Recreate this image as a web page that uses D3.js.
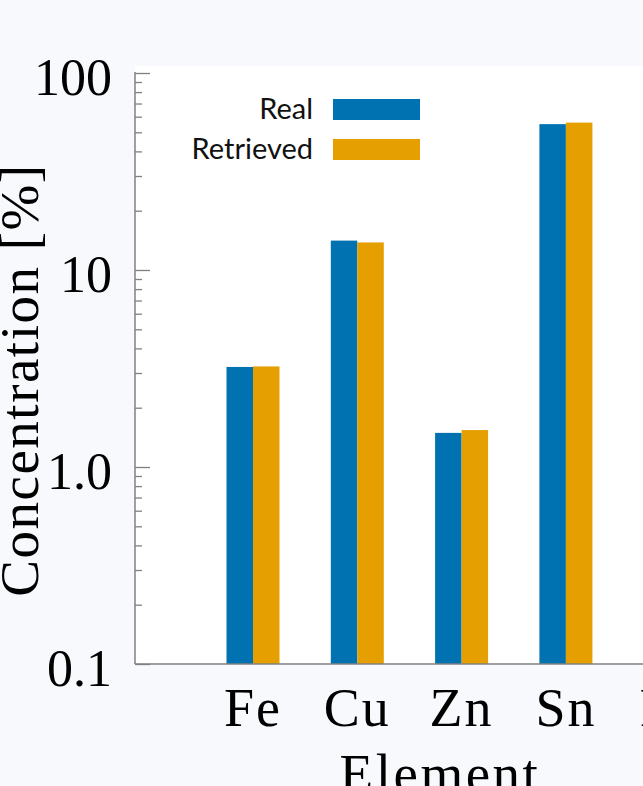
<!DOCTYPE html>
<html>
<head>
<meta charset="utf-8">
<script src="https://cdn.jsdelivr.net/npm/d3@7"></script>
<style>
  html, body { margin: 0; padding: 0; background: #f7f9fd; overflow: hidden; }
  #plot { width: 643px; height: 786px; }
</style>
</head>
<body>
<div id="plot"></div>
<script>
// values
const categories = ['Fe', 'Cu', 'Zn', 'Sn', 'Pb'];
const realValues = [3.22, 14.1, 1.49, 55.0];      // last category is cut off in the picture
const retrievedValues = [3.24, 13.8, 1.54, 56.0];
const seriesNames = ['Real', 'Retrieved'];
const seriesColors = ['#0072b2', '#e69f00'];
const yMajorTicks = [0.1, 1, 10, 100];
const yMajorLabels = ['0.1', '1.0', '10', '100'];

function drawChart() {
  const W = 643, H = 786;
  const axisX = 135;
  const plotTop = 66, yTop = 73, yBottom = 664;
  const step = 104.3;
  const firstCenter = 253;
  const serif = '"Liberation Serif", serif';

  const svg = d3.select('#plot').append('svg')
    .attr('width', W).attr('height', H);

  svg.append('rect').attr('x', 0).attr('y', 0).attr('width', W).attr('height', H).attr('fill', '#f7f9fd');
  // white plot area
  svg.append('rect').attr('x', axisX).attr('y', plotTop)
    .attr('width', W - axisX).attr('height', yBottom - plotTop).attr('fill', '#ffffff');

  const x = d3.scaleBand()
    .domain(categories)
    .range([firstCenter - step / 2, firstCenter - step / 2 + step * categories.length]);
  const y = d3.scaleLog().domain([0.1, 100]).range([yBottom, yTop]);

  const barW = 26.5;
  const rows = categories.map((c, i) => ({ cat: c, vals: [realValues[i], retrievedValues[i]] }));

  const grp = svg.append('g');
  rows.forEach((r) => {
    r.vals.forEach((v, k) => {
      if (v == null) return;
      const cx = x(r.cat) + x.bandwidth() / 2;
      grp.append('rect')
        .attr('x', cx + (k === 0 ? -barW : 0))
        .attr('y', y(v))
        .attr('width', barW)
        .attr('height', y(0.1) - y(v))
        .attr('fill', seriesColors[k]);
    });
  });

  // minor + major ticks pointing into the plot
  const minorAxis = d3.axisRight(y).tickValues(y.ticks().filter(t => !yMajorTicks.includes(t)))
    .tickSize(7).tickFormat('');
  const gMinor = svg.append('g').attr('transform', `translate(${axisX},0)`).call(minorAxis);
  const majorAxis = d3.axisRight(y).tickValues(yMajorTicks).tickSize(15).tickFormat('');
  const gMajor = svg.append('g').attr('transform', `translate(${axisX},0)`).call(majorAxis);
  [gMinor, gMajor].forEach(g => {
    g.select('.domain').remove();
    g.selectAll('line').attr('stroke', '#808080').attr('stroke-width', 1.3);
  });

  // tick labels
  const labelAxis = d3.axisLeft(y).tickValues(yMajorTicks).tickSize(0).tickPadding(23)
    .tickFormat((d, i) => yMajorLabels[i]);
  const gLab = svg.append('g').attr('transform', `translate(${axisX},5)`).call(labelAxis);
  gLab.select('.domain').remove();
  gLab.selectAll('text')
    .style('font-family', serif)
    .style('font-size', '52px')
    .attr('fill', '#000');

  // axis lines
  svg.append('line').attr('x1', axisX).attr('x2', axisX).attr('y1', yTop - 1).attr('y2', yBottom)
    .attr('stroke', '#808080').attr('stroke-width', 1.5);
  svg.append('line').attr('x1', axisX).attr('x2', W).attr('y1', yBottom).attr('y2', yBottom)
    .attr('stroke', '#808080').attr('stroke-width', 1.5);

  // x labels
  const xAxis = d3.axisBottom(x).tickSize(0).tickPadding(24);
  const gX = svg.append('g').attr('transform', `translate(0,${yBottom})`).call(xAxis);
  gX.select('.domain').remove();
  gX.selectAll('text')
    .style('font-family', serif)
    .style('font-size', '54px')
    .style('letter-spacing', '2px')
    .attr('fill', '#000');

  // axis titles
  svg.append('text')
    .attr('x', 440).attr('y', 792)
    .attr('text-anchor', 'middle')
    .style('font-family', serif)
    .style('font-size', '55px')
    .style('letter-spacing', '2.5px')
    .text('Element');

  svg.append('text')
    .attr('transform', 'translate(38,380) rotate(-90)')
    .attr('text-anchor', 'middle')
    .style('font-family', serif)
    .style('font-size', '55px')
    .style('letter-spacing', '1.5px')
    .text('Concentration [%]');

  // legend
  const legend = svg.append('g').attr('transform', 'translate(333,99)');
  seriesNames.forEach((name, i) => {
    legend.append('rect').attr('x', 0).attr('y', i * 40).attr('width', 87).attr('height', 21)
      .attr('fill', seriesColors[i]);
    legend.append('text').attr('x', -20).attr('y', i * 40 + 20)
      .attr('text-anchor', 'end')
      .style('font-family', 'Lato, sans-serif')
      .style('font-size', '29px')
      .attr('fill', '#111')
      .text(name);
  });
}

drawChart();
</script>
</body>
</html>
